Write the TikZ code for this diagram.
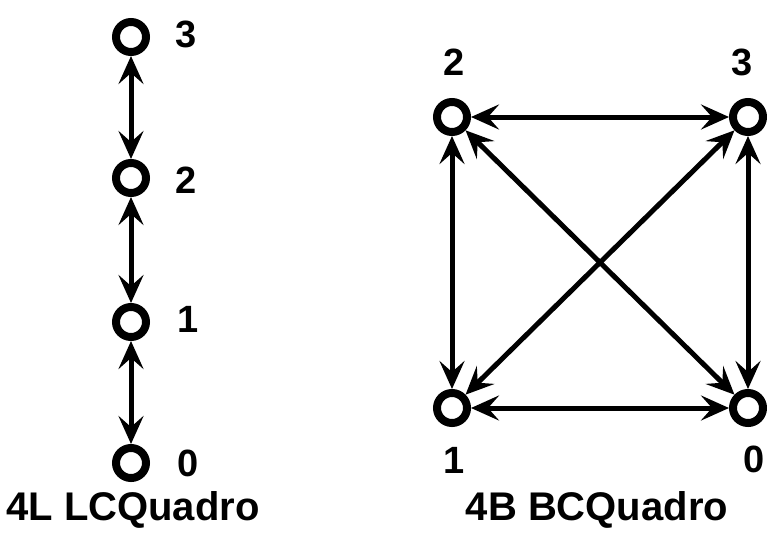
\documentclass[tikz,border=0pt]{standalone}
\usepackage{fontspec}
\setmainfont{Liberation Sans}
\usetikzlibrary{arrows.meta}
\begin{document}
\begin{tikzpicture}[x=1pt,y=-1pt,
  vtx/.style={circle,draw,line width=8pt,minimum size=30pt,inner sep=0pt},
  lbl/.style={font=\fontsize{38}{38}\selectfont\bfseries,inner sep=0pt},
  ttl/.style={font=\fontsize{40}{40}\selectfont\bfseries,inner sep=0pt},
  link/.style={line width=5pt,{Stealth[length=28pt,width=25pt,inset=11pt]}-{Stealth[length=28pt,width=25pt,inset=11pt]}}
]
\useasboundingbox (0,0) rectangle (767,532);
% left column
\node[vtx] (a3) at (131,37) {};
\node[vtx] (a2) at (131,178) {};
\node[vtx] (a1) at (131,322) {};
\node[vtx] (a0) at (131,463) {};
\node[lbl] (la3) at (186,34) {3};
\node[lbl] (la2) at (186,180) {2};
\node[lbl] (la1) at (188,319) {1};
\node[lbl] (la0) at (188,463) {0};
\draw[link] (a3) -- (a2);
\draw[link] (a2) -- (a1);
\draw[link] (a1) -- (a0);
\node[ttl] (t1) at (133,510) {4L LCQuadro};
% right square
\node[vtx] (b2) at (452,117) {};
\node[vtx] (b3) at (748,117) {};
\node[vtx] (b1) at (452,408) {};
\node[vtx] (b0) at (748,408) {};
\node[lbl] (lb2) at (454,62) {2};
\node[lbl] (lb3) at (742,62) {3};
\node[lbl] (lb1) at (454,460) {1};
\node[lbl] (lb0) at (754,459) {0};
\draw[link] (b2) -- (b3);
\draw[link] (b1) -- (b0);
\draw[link] (b2) -- (b1);
\draw[link] (b3) -- (b0);
\draw[link] (b2) -- (b0);
\draw[link] (b1) -- (b3);
\node[ttl] (t2) at (597,510) {4B BCQuadro};
\end{tikzpicture}
\end{document}
